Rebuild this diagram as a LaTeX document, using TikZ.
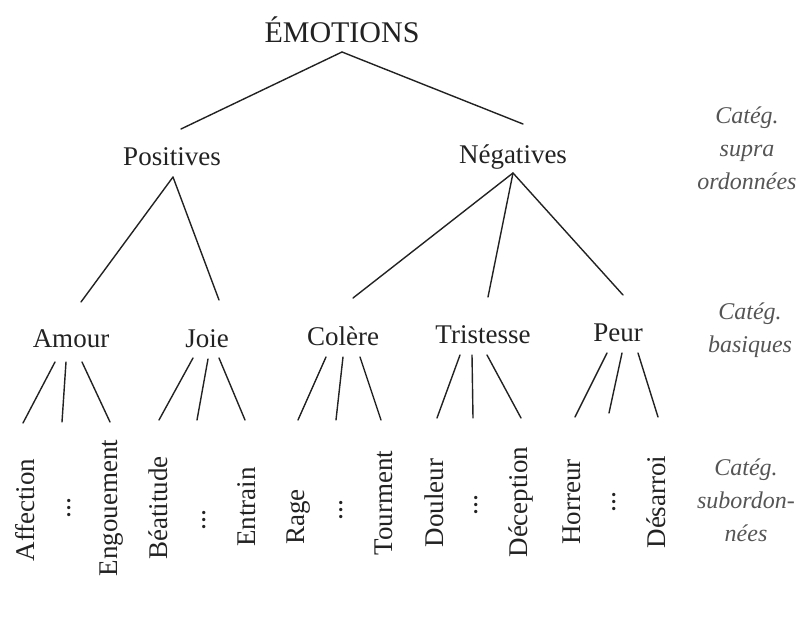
\documentclass[tikz,border=0pt]{standalone}
\usepackage{fontspec}
\setmainfont{Liberation Serif}
\usetikzlibrary{calc}
\definecolor{ink}{HTML}{222222}
\definecolor{catgray}{HTML}{555555}
\tikzset{
  lbl/.style={inner sep=0pt, anchor=base, text=ink, font=\fontsize{27}{32}\selectfont},
  leaf/.style={lbl, rotate=90},
  dots/.style={leaf, font=\fontsize{28}{32}\selectfont},
  cat/.style={inner sep=0pt, align=center, text=catgray, font=\fontsize{24}{33}\selectfont\itshape},
  edge/.style={draw=ink, line width=1.4pt, line cap=round}
}
\begin{document}
\begin{tikzpicture}[x=1pt,y=-1pt]
\useasboundingbox (0,0) rectangle (805,626);
% top
\node[lbl, font=\fontsize{30}{34}\selectfont] (emo) at (342,42) {ÉMOTIONS};
\node[lbl] (pos) at (172,165) {Positives};
\node[lbl] (neg) at (513,163) {Négatives};
% basic
\node[lbl] (amour) at (71,347) {Amour};
\node[lbl] (joie) at (207,347) {Joie};
\node[lbl] (colere) at (343,345) {Colère};
\node[lbl] (trist) at (483,343) {Tristesse};
\node[lbl] (peur) at (618,341) {Peur};
% leaves
\node[leaf] (affec) at (34,510) {Affection};
\node[dots] (d1) at (70,508) {...};
\node[leaf] (engou) at (117,508) {Engouement};
\node[leaf] (beat) at (167,508) {Béatitude};
\node[dots] (d2) at (205,520) {...};
\node[leaf] (entr) at (255,507) {Entrain};
\node[leaf] (rage) at (304,517) {Rage};
\node[dots] (d3) at (342,510) {...};
\node[leaf] (tourm) at (392,503) {Tourment};
\node[leaf] (doul) at (443,503) {Douleur};
\node[dots] (d4) at (477,505) {...};
\node[leaf] (decep) at (527,502) {Déception};
\node[leaf] (horr) at (580,502) {Horreur};
\node[dots] (d5) at (615,502) {...};
\node[leaf] (desar) at (665,502) {Désarroi};
% category labels
\node[cat] (csupra) at (747,148) {Catég.\\supra\\ordonnées};
\node[cat] (cbas) at (750,330) {Catég.\\basiques};
\node[cat] (csub) at (746,500) {Catég.\\subordon-\\nées};
% edges level 1
\draw[edge] ($(emo.base)+(0,10)$) -- ($(pos.base)+(9,-36)$);
\draw[edge] ($(emo.base)+(0,10)$) -- ($(neg.base)+(10,-39)$);
% level 2
\draw[edge] ($(pos.base)+(1,12)$) -- ($(amour.base)+(10,-45)$);
\draw[edge] ($(pos.base)+(1,12)$) -- ($(joie.base)+(12,-47)$);
\draw[edge] ($(neg.base)+(0,10)$) -- ($(colere.base)+(10,-47)$);
\draw[edge] ($(neg.base)+(0,10)$) -- ($(trist.base)+(5,-46)$);
\draw[edge] ($(neg.base)+(0,10)$) -- ($(peur.base)+(5,-46)$);
% level 3
\draw[edge] ($(amour.base)+(-16,15)$) -- ($(affec.base)+(-11,-87)$);
\draw[edge] ($(amour.base)+(-5,15)$) -- ($(d1.base)+(-8,-86)$);
\draw[edge] ($(amour.base)+(11,15)$) -- ($(engou.base)+(-7,-86)$);
\draw[edge] ($(joie.base)+(-14,11)$) -- ($(beat.base)+(-8,-88)$);
\draw[edge] ($(joie.base)+(1,12)$) -- ($(d2.base)+(-8,-100)$);
\draw[edge] ($(joie.base)+(12,11)$) -- ($(entr.base)+(-10,-87)$);
\draw[edge] ($(colere.base)+(-17,12)$) -- ($(rage.base)+(-6,-97)$);
\draw[edge] ($(colere.base)+(0,12)$) -- ($(d3.base)+(-6,-90)$);
\draw[edge] ($(colere.base)+(17,12)$) -- ($(tourm.base)+(-11,-83)$);
\draw[edge] ($(trist.base)+(-23,12)$) -- ($(doul.base)+(-6,-85)$);
\draw[edge] ($(trist.base)+(-11,12)$) -- ($(d4.base)+(-4,-87)$);
\draw[edge] ($(trist.base)+(4,12)$) -- ($(decep.base)+(-6,-84)$);
\draw[edge] ($(peur.base)+(-11,12)$) -- ($(horr.base)+(-5,-85)$);
\draw[edge] ($(peur.base)+(4,12)$) -- ($(d5.base)+(-6,-89)$);
\draw[edge] ($(peur.base)+(20,12)$) -- ($(desar.base)+(-7,-85)$);
\end{tikzpicture}
\end{document}
